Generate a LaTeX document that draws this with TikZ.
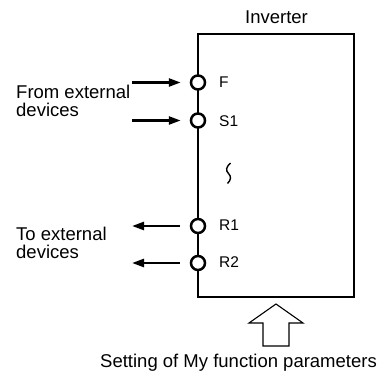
\documentclass[tikz,border=0pt]{standalone}
\usepackage{fontspec}
\setmainfont{Liberation Sans}
\usetikzlibrary{arrows.meta}
\begin{document}
\begin{tikzpicture}[x=1pt,y=-1pt,
  maintext/.style={font=\fontsize{18.5}{18}\selectfont, inner sep=0pt},
  labeltext/.style={font=\fontsize{15.5}{16}\selectfont, inner sep=0pt, anchor=base west},
  term/.style={circle, draw, line width=2.5pt, fill=white, minimum size=14pt, inner sep=0pt},
  sig/.style={line width=2.5pt, -{Triangle[length=12pt,width=8pt]}},
  frame/.style={line width=2.5pt}]
\useasboundingbox (0,0) rectangle (383,371);
% inverter box
\coordinate (tl) at (198,34);
\coordinate (tr) at (354,34);
\coordinate (br) at (354,297);
\coordinate (bl) at (198,297);
\draw[frame] (tl) -- (tr) -- (br) -- (bl) -- cycle;
\node[maintext, anchor=base] (inv) at (276.5,24) {Inverter};
% terminals
\node[term] (F) at (198,82.5) {};
\node[term] (S1) at (198,120.5) {};
\node[term] (R1) at (198,226) {};
\node[term] (R2) at (198,263) {};
\node[labeltext] (lF) at (219,88) {F};
\node[labeltext] (lS1) at (219,127) {S1};
\node[labeltext] (lR1) at (219,231) {R1};
\node[labeltext] (lR2) at (219,268) {R2};
% arrow ends
\coordinate (aF) at (132,82.5);
\coordinate (aS1) at (132,120.5);
\coordinate (aR1) at (132,226);
\coordinate (aR2) at (132,263);
\draw[sig] (aF) -- ([xshift=-9pt]F.west);
\draw[sig] (aS1) -- ([xshift=-9pt]S1.west);
\draw[sig] ([xshift=-10pt]R1.west) -- (aR1);
\draw[sig] ([xshift=-10pt]R2.west) -- (aR2);
% texts
\node[maintext, anchor=base west] (from1) at (16,99) {From external};
\node[maintext, anchor=base west] (from2) at (16,117) {devices};
\node[maintext, anchor=base west] (to1) at (16,241) {To external};
\node[maintext, anchor=base west] (to2) at (16,259) {devices};
% squiggle
\draw[line width=1.4pt] (230.5,163) .. controls (226,167) and (225.5,170.5) .. (228.5,173.5)
   .. controls (231.5,176.5) and (231,180) .. (227.5,183.5);
% hollow arrow
\draw[line width=1.1pt, fill=white] (276,304) -- (303,323) -- (289,323) -- (289,346)
   -- (263,346) -- (263,323) -- (249,323) -- cycle;
\node[maintext, anchor=base] (set) at (238.5,368) {Setting of My function parameters};
\end{tikzpicture}
\end{document}
